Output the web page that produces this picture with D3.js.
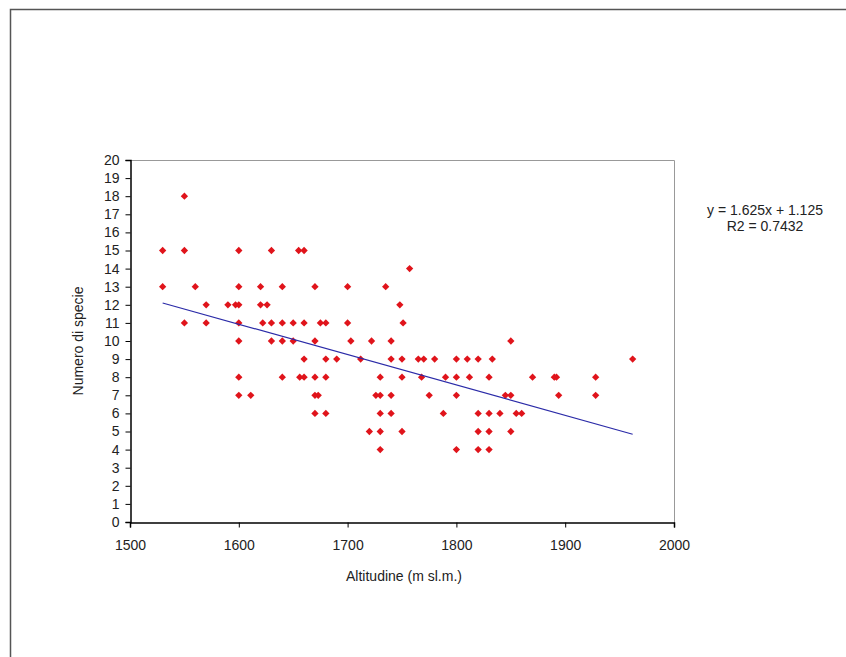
<!DOCTYPE html>
<html>
<head>
<meta charset="utf-8">
<script src="https://cdn.jsdelivr.net/npm/d3@7"></script>
<style>
    body { margin: 0; background: #fff; }
    svg { display: block; font-family: "Liberation Sans", Arial, sans-serif; }
    .tick text { font-size: 14px; fill: #222; }
</style>
</head>
<body>
<svg width="846" height="657"></svg>
<script>
// altitude (m) and number of species, grouped by species count row
var altitude = [
    1550,
    1530, 1550, 1600, 1630, 1655, 1660,
    1757,
    1530, 1560, 1600, 1620, 1640, 1670, 1700, 1735,
    1570, 1590, 1597, 1600, 1620, 1626, 1748,
    1550, 1570, 1600, 1622, 1630, 1640, 1650, 1660, 1675, 1680, 1700, 1751,
    1600, 1630, 1640, 1650, 1670, 1703, 1722, 1740, 1850,
    1660, 1680, 1690, 1712, 1740, 1750, 1765, 1770, 1780, 1800, 1810, 1820, 1833, 1962,
    1600, 1640, 1656, 1660, 1670, 1680, 1730, 1750, 1768, 1790, 1800, 1812, 1830, 1870, 1890, 1892, 1928,
    1600, 1611, 1670, 1673, 1726, 1730, 1740, 1775, 1800, 1845, 1850, 1894, 1928,
    1670, 1680, 1730, 1740, 1788, 1820, 1830, 1840, 1855, 1860,
    1720, 1730, 1750, 1820, 1830, 1850,
    1730, 1800, 1820, 1830
];
var species = [
    18,
    15, 15, 15, 15, 15, 15,
    14,
    13, 13, 13, 13, 13, 13, 13, 13,
    12, 12, 12, 12, 12, 12, 12,
    11, 11, 11, 11, 11, 11, 11, 11, 11, 11, 11, 11,
    10, 10, 10, 10, 10, 10, 10, 10, 10,
    9, 9, 9, 9, 9, 9, 9, 9, 9, 9, 9, 9, 9, 9,
    8, 8, 8, 8, 8, 8, 8, 8, 8, 8, 8, 8, 8, 8, 8, 8, 8,
    7, 7, 7, 7, 7, 7, 7, 7, 7, 7, 7, 7, 7,
    6, 6, 6, 6, 6, 6, 6, 6, 6, 6,
    5, 5, 5, 5, 5, 5,
    4, 4, 4, 4
];

// trendline ends as drawn in the chart
var trendX = [1530, 1962];
var trendY = [12.1, 4.85];

var xTicks = [1500, 1600, 1700, 1800, 1900, 2000];
var yTicks = d3.range(0, 21);

var equation = ["y = 1.625x + 1.125", "R2 = 0.7432"];

var svg = d3.select("svg");

// outer chart frame (runs off the right and bottom edges)
svg.append("path")
    .attr("d", "M10.5,700 V9.5 H900")
    .attr("fill", "none")
    .attr("stroke", "#555")
    .attr("stroke-width", 1.5);

var plotLeft = 130, plotRight = 674, plotTop = 160, plotBottom = 522;

var x = d3.scaleLinear().domain([1500, 2000]).range([plotLeft, plotRight]);
var y = d3.scaleLinear().domain([0, 20]).range([plotBottom, plotTop]);

// plot area border (top and right are grey)
svg.append("path")
    .attr("d", "M" + plotLeft + "," + (plotTop + 0.5) + " H" + (plotRight + 0.5) + " V" + plotBottom)
    .attr("fill", "none")
    .attr("stroke", "#999")
    .attr("stroke-width", 1);

svg.append("g")
    .attr("transform", "translate(0," + (plotBottom + 0.5) + ")")
    .call(d3.axisBottom(x).tickValues(xTicks).tickSize(5).tickPadding(13).tickFormat(d3.format("d")))
    .call(g => g.select(".domain").attr("stroke", "#000").attr("stroke-width", 1.5))
    .call(g => g.selectAll(".tick line").attr("stroke", "#000"));

svg.append("g")
    .attr("transform", "translate(" + (plotLeft + 0.5) + ",0)")
    .call(d3.axisLeft(y).tickValues(yTicks).tickSize(5).tickPadding(6))
    .call(g => g.select(".domain").attr("stroke", "#000").attr("stroke-width", 1.5))
    .call(g => g.selectAll(".tick line").attr("stroke", "#000"));

// data points
var diamond = d3.symbol().type(d3.symbolDiamond2).size(34);
svg.append("g")
    .selectAll("path")
    .data(altitude.map(function (a, i) { return [a, species[i]]; }))
    .enter().append("path")
    .attr("d", diamond)
    .attr("transform", function (d) {
        return "translate(" + x(d[0]) + "," + y(d[1]) + ")";
    })
    .attr("fill", "#e0141b");

// trendline
var line = d3.line()
    .x(function (d) { return x(d[0]); })
    .y(function (d) { return y(d[1]); });

svg.append("path")
    .datum(trendX.map(function (v, i) { return [v, trendY[i]]; }))
    .attr("d", line)
    .attr("fill", "none")
    .attr("stroke", "#2b2ba8")
    .attr("stroke-width", 1.2);

// axis titles
svg.append("text")
    .attr("x", 404)
    .attr("y", 581)
    .attr("text-anchor", "middle")
    .attr("font-size", 14)
    .attr("fill", "#222")
    .text("Altitudine (m sl.m.)");

svg.append("text")
    .attr("transform", "translate(83,341) rotate(-90)")
    .attr("text-anchor", "middle")
    .attr("font-size", 14)
    .attr("fill", "#222")
    .text("Numero di specie");

svg.append("g")
    .selectAll("text")
    .data(equation)
    .enter().append("text")
    .attr("x", 765)
    .attr("y", function (d, i) { return 215 + i * 16; })
    .attr("text-anchor", "middle")
    .attr("font-size", 14)
    .attr("fill", "#222")
    .text(function (d) { return d; });
</script>
</body>
</html>
